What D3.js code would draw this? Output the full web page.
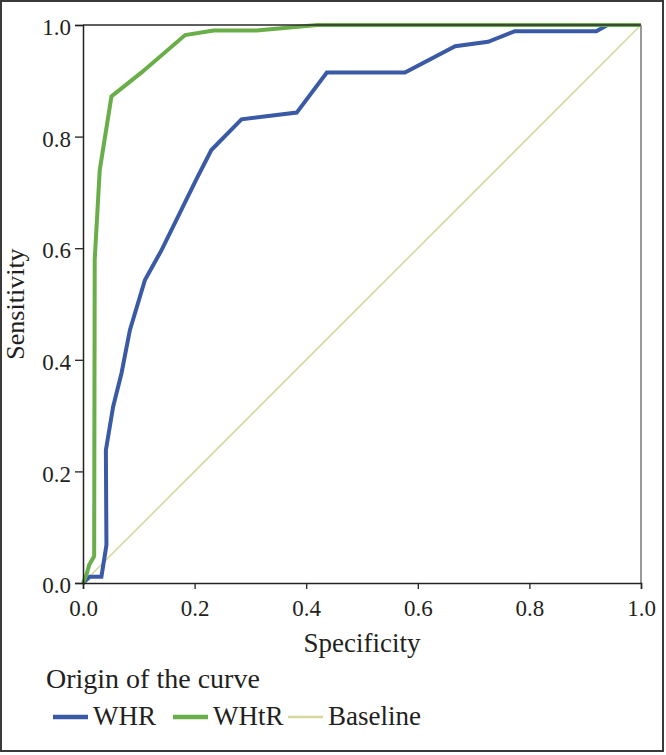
<!DOCTYPE html>
<html>
<head>
<meta charset="utf-8">
<script src="https://cdn.jsdelivr.net/npm/d3@7/dist/d3.min.js"></script>
<style>
  html, body { margin: 0; padding: 0; background: #fff; }
  text { font-family: "Liberation Serif", "DejaVu Serif", serif; fill: #231f20; }
</style>
</head>
<body>
<div id="chart"></div>
<script>
// ROC curve values
const whrX  = [0, 0.012, 0.033, 0.042, 0.041, 0.054, 0.069, 0.084, 0.111, 0.141, 0.204, 0.23, 0.284, 0.383, 0.437, 0.577, 0.667, 0.726, 0.774, 0.92, 0.94, 1];
const whrY  = [0, 0.011, 0.011, 0.068, 0.238, 0.316, 0.376, 0.453, 0.543, 0.597, 0.725, 0.776, 0.831, 0.843, 0.915, 0.915, 0.962, 0.97, 0.989, 0.989, 1, 1];
const whtrX = [0, 0.006, 0.011, 0.02, 0.021, 0.03, 0.051, 0.105, 0.183, 0.234, 0.311, 0.42, 1];
const whtrY = [0, 0.014, 0.032, 0.048, 0.58, 0.74, 0.872, 0.915, 0.982, 0.99, 0.99, 1, 1];
const baseX = [0, 1];
const baseY = [0, 1];
const ticks = [0, 0.2, 0.4, 0.6, 0.8, 1.0];

const legendItems = ["WHR", "WHtR", "Baseline"];
const colors = { WHR: "#3a5aa6", WHtR: "#69ae48", Baseline: "#d6d89f" };
const widths = { WHR: 4, WHtR: 4, Baseline: 1.6 };

const width = 666, height = 755;
const plotLeft = 83, plotRight = 641, plotTop = 25, plotBottom = 583;
const serif = "'Liberation Serif', 'DejaVu Serif', serif";

const svg = d3.select("#chart").append("svg")
    .attr("width", width)
    .attr("height", height);

// outer frame
svg.append("rect")
    .attr("x", 1).attr("y", 1)
    .attr("width", 662).attr("height", 750)
    .attr("fill", "#fff")
    .attr("stroke", "#3a3a3a")
    .attr("stroke-width", 2);

const x = d3.scaleLinear().domain([0, 1]).range([plotLeft, plotRight]);
const y = d3.scaleLinear().domain([0, 1]).range([plotBottom, plotTop]);

const line = d3.line().x(d => x(d[0])).y(d => y(d[1]));

const series = [
    { name: "Baseline", pts: d3.zip(baseX, baseY) },
    { name: "WHR", pts: d3.zip(whrX, whrY) },
    { name: "WHtR", pts: d3.zip(whtrX, whtrY) }
];

svg.selectAll(".curve")
    .data(series)
    .enter()
    .append("path")
    .attr("class", "curve")
    .attr("d", d => line(d.pts))
    .attr("fill", "none")
    .attr("stroke", d => colors[d.name])
    .attr("stroke-width", d => widths[d.name])
    .attr("stroke-linejoin", "miter");

// frame top / right
svg.append("line")
    .attr("x1", plotLeft).attr("x2", plotRight).attr("y1", plotTop).attr("y2", plotTop)
    .attr("stroke", "#2a2a2a").attr("stroke-width", 1.5);
svg.append("line")
    .attr("x1", plotRight).attr("x2", plotRight).attr("y1", plotTop).attr("y2", plotBottom)
    .attr("stroke", "#777").attr("stroke-width", 1.5);

// axes
const fmt = d3.format(".1f");
const yAxis = svg.append("g")
    .attr("transform", `translate(${plotLeft},0)`)
    .call(d3.axisLeft(y).tickValues(ticks).tickFormat(fmt).tickSize(8).tickPadding(4));
const xAxis = svg.append("g")
    .attr("transform", `translate(0,${plotBottom})`)
    .call(d3.axisBottom(x).tickValues(ticks).tickFormat(fmt).tickSize(6).tickPadding(4));

[xAxis, yAxis].forEach(g => {
    g.attr("font-family", serif);
    g.select(".domain").attr("stroke", "#222").attr("stroke-width", 1.5);
    g.selectAll(".tick line").attr("stroke", "#222").attr("stroke-width", 1.3);
    g.selectAll(".tick text")
        .style("font-family", serif)
        .style("font-size", "23px")
        .attr("fill", "#231f20");
});
yAxis.selectAll(".tick text").attr("dy", "0.42em");
xAxis.selectAll(".tick text").attr("y", 33).attr("dy", 0);

// axis titles
svg.append("text")
    .attr("x", (plotLeft + plotRight) / 2)
    .attr("y", 652)
    .attr("text-anchor", "middle")
    .style("font-size", "27px")
    .text("Specificity");

svg.append("text")
    .attr("transform", `translate(24,${(plotTop + plotBottom) / 2}) rotate(-90)`)
    .attr("text-anchor", "middle")
    .style("font-size", "26px")
    .text("Sensitivity");

// legend
svg.append("text")
    .attr("x", 46)
    .attr("y", 688)
    .style("font-size", "28px")
    .text("Origin of the curve");

const legendX = [53, 173, 288];
const leg = svg.selectAll(".leg")
    .data(legendItems)
    .enter()
    .append("g")
    .attr("class", "leg")
    .attr("transform", (d, i) => `translate(${legendX[i]},717)`);

leg.append("line")
    .attr("x1", 0).attr("x2", 35)
    .attr("stroke", d => colors[d])
    .attr("stroke-width", d => d === "Baseline" ? 2.5 : 4.5);

leg.append("text")
    .attr("x", 40)
    .attr("y", 8)
    .style("font-size", "27px")
    .text(d => d);
</script>
</body>
</html>
